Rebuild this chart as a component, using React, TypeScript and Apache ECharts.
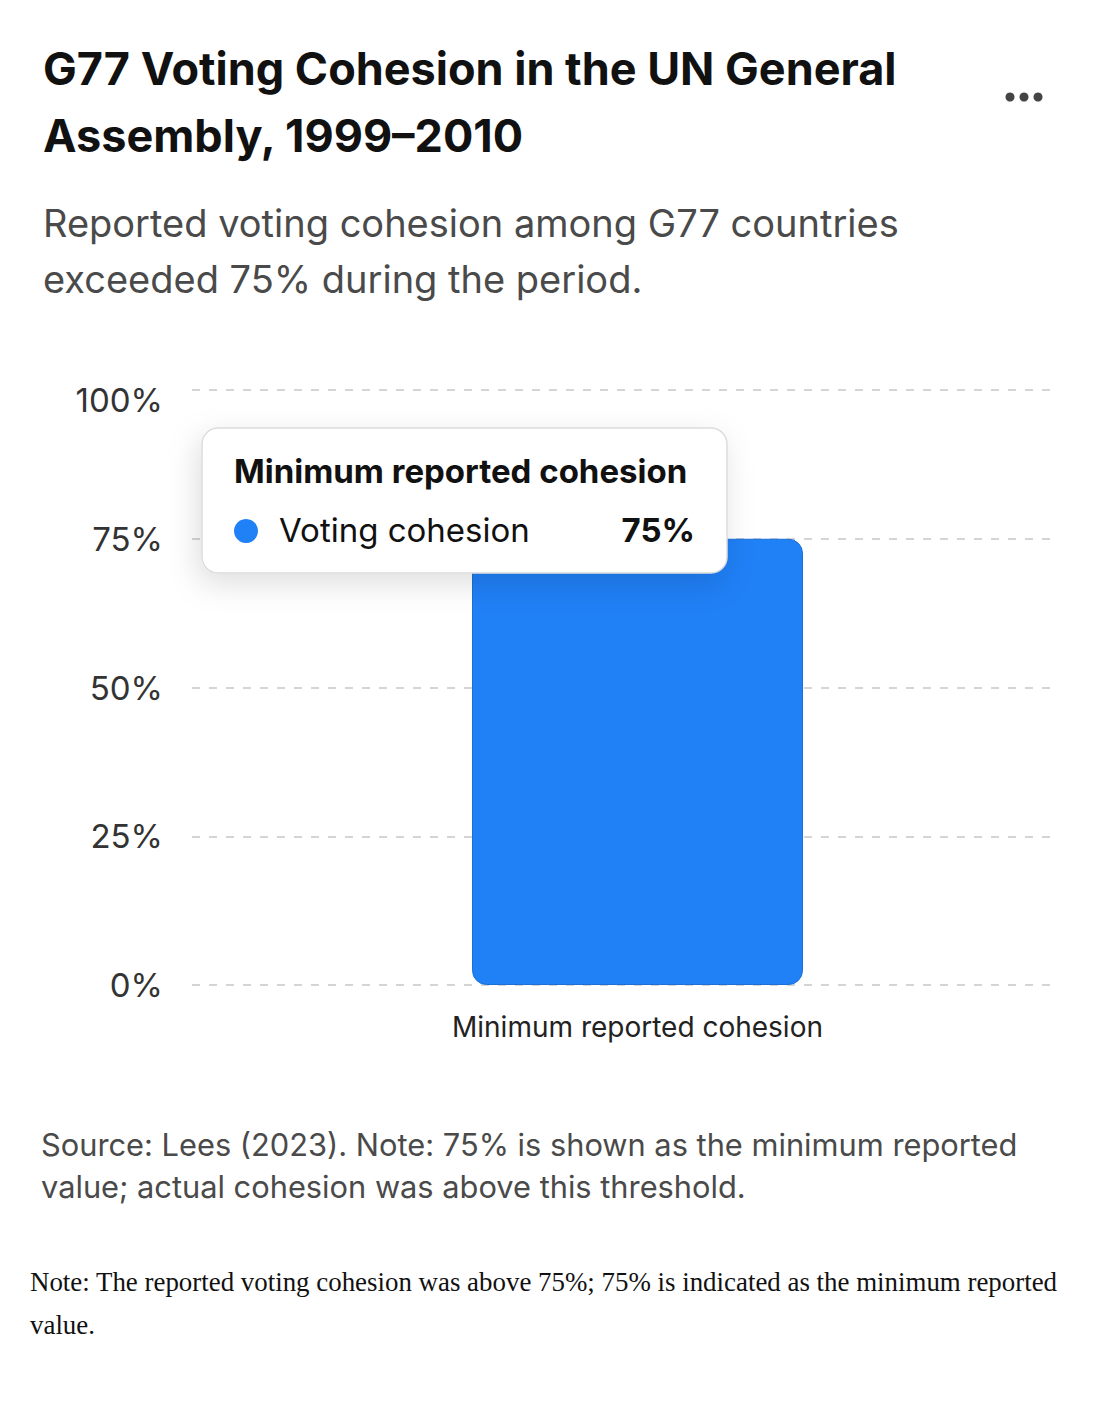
import * as echarts from "echarts";
import { useEffect, useRef } from "react";

const categories = ["Minimum reported cohesion"];
const cohesionValues = [75];
const seriesName = "Voting cohesion";
const axisMin = 0;
const axisMax = 100;
const axisStep = 25;

const titleText = "G77 Voting Cohesion in the UN General\nAssembly, 1999–2010";
const subtitleText = "Reported voting cohesion among G77 countries\nexceeded 75% during the period.";
const sourceText = "Source: Lees (2023). Note: 75% is shown as the minimum reported\nvalue; actual cohesion was above this threshold.";
const noteText = "Note: The reported voting cohesion was above 75%; 75% is indicated as the minimum reported value.";

const font = "Inter, 'Noto Sans', sans-serif";
const barBlue = "#2080F6";

function buildOption(): echarts.EChartsCoreOption {
  const tipValue = `${cohesionValues[0]}%`;
  return {
    animation: false,
    backgroundColor: "#ffffff",
    textStyle: { fontFamily: font },
    grid: [
      { left: 184, right: 40, top: 382, height: 595 },
      { left: 184, right: 10, top: 382, height: 595 }
    ],
    xAxis: [
      { type: "category", gridIndex: 0, data: categories, show: false },
      {
        type: "category",
        gridIndex: 1,
        data: categories,
        axisLine: { show: false },
        axisTick: { show: false },
        axisLabel: { fontSize: 28, color: "#222", margin: 28, fontFamily: font }
      }
    ],
    yAxis: [
      {
        type: "value",
        gridIndex: 0,
        min: axisMin,
        max: axisMax,
        interval: axisStep,
        axisLine: { show: false },
        axisTick: { show: false },
        axisLabel: {
          // the top label sits a little below its gridline in the reference
          formatter: (v: number) => (v === axisMax ? `{top|${v}%}` : `${v}%`),
          fontSize: 33,
          color: "#333",
          margin: 29,
          fontFamily: font,
          rich: { top: { fontSize: 33, color: "#333", fontFamily: font, padding: [20, 0, 0, 0] } }
        },
        splitLine: { lineStyle: { color: "#c8c8c8", width: 1.5, type: [8, 9] } }
      },
      { type: "value", gridIndex: 1, min: axisMin, max: axisMax, show: false, splitLine: { show: false } }
    ],
    series: [
      {
        type: "bar",
        name: seriesName,
        xAxisIndex: 1,
        yAxisIndex: 1,
        data: cohesionValues,
        barWidth: 331,
        z: 2,
        itemStyle: { color: barBlue, borderColor: "#1B6FD8", borderWidth: 1, borderRadius: 14 }
      }
    ],
    graphic: [
      {
        type: "text",
        x: 35,
        y: 27,
        style: { text: titleText, font: `700 45px ${font}`, fill: "#111", lineHeight: 67, verticalAlign: "top" }
      },
      {
        type: "text",
        x: 35,
        y: 187,
        style: { text: subtitleText, font: `400 38px ${font}`, fill: "#4a4a4a", lineHeight: 56, verticalAlign: "top" }
      },
      { type: "circle", shape: { cx: 1002, cy: 89, r: 4.5 }, style: { fill: "#444" } },
      { type: "circle", shape: { cx: 1016, cy: 89, r: 4.5 }, style: { fill: "#444" } },
      { type: "circle", shape: { cx: 1030, cy: 89, r: 4.5 }, style: { fill: "#444" } },
      {
        type: "rect",
        z: 100,
        shape: { x: 194, y: 420, width: 525, height: 145, r: 16 },
        style: {
          fill: "#ffffff",
          stroke: "#dcdcdc",
          lineWidth: 1.5,
          shadowBlur: 30,
          shadowOffsetX: -4,
          shadowOffsetY: 10,
          shadowColor: "rgba(0,0,0,0.13)"
        }
      },
      {
        type: "text",
        z: 101,
        x: 226,
        y: 463,
        style: { text: categories[0], font: `700 33px ${font}`, fill: "#111", verticalAlign: "middle" }
      },
      { type: "circle", z: 101, shape: { cx: 238, cy: 523, r: 12 }, style: { fill: barBlue } },
      {
        type: "text",
        z: 101,
        x: 271,
        y: 522,
        style: { text: seriesName, font: `400 33px ${font}`, fill: "#111", verticalAlign: "middle" }
      },
      {
        type: "text",
        z: 101,
        x: 687,
        y: 522,
        style: { text: tipValue, font: `700 33px ${font}`, fill: "#111", align: "right", verticalAlign: "middle" }
      },
      {
        type: "text",
        x: 33,
        y: 1115,
        style: { text: sourceText, font: `400 30.8px ${font}`, fill: "#4a4a4a", lineHeight: 42, verticalAlign: "top" }
      }
    ]
  };
}

export default function App() {
  const ref = useRef<HTMLDivElement | null>(null);

  useEffect(() => {
    if (!ref.current) {
      return;
    }
    const chart = echarts.init(ref.current, undefined, { renderer: "svg" });
    chart.setOption(buildOption());
    return () => {
      chart.dispose();
    };
  }, []);

  return (
    <div>
      <div ref={ref} style={{ width: 1085, height: 1240 }} />
      <p
        style={{
          margin: "13px 0 0 22px",
          fontFamily: "'Liberation Serif', 'DejaVu Serif', serif",
          fontSize: 26.9,
          lineHeight: "43px",
          color: "#111"
        }}
      >
        {noteText}
      </p>
    </div>
  );
}
